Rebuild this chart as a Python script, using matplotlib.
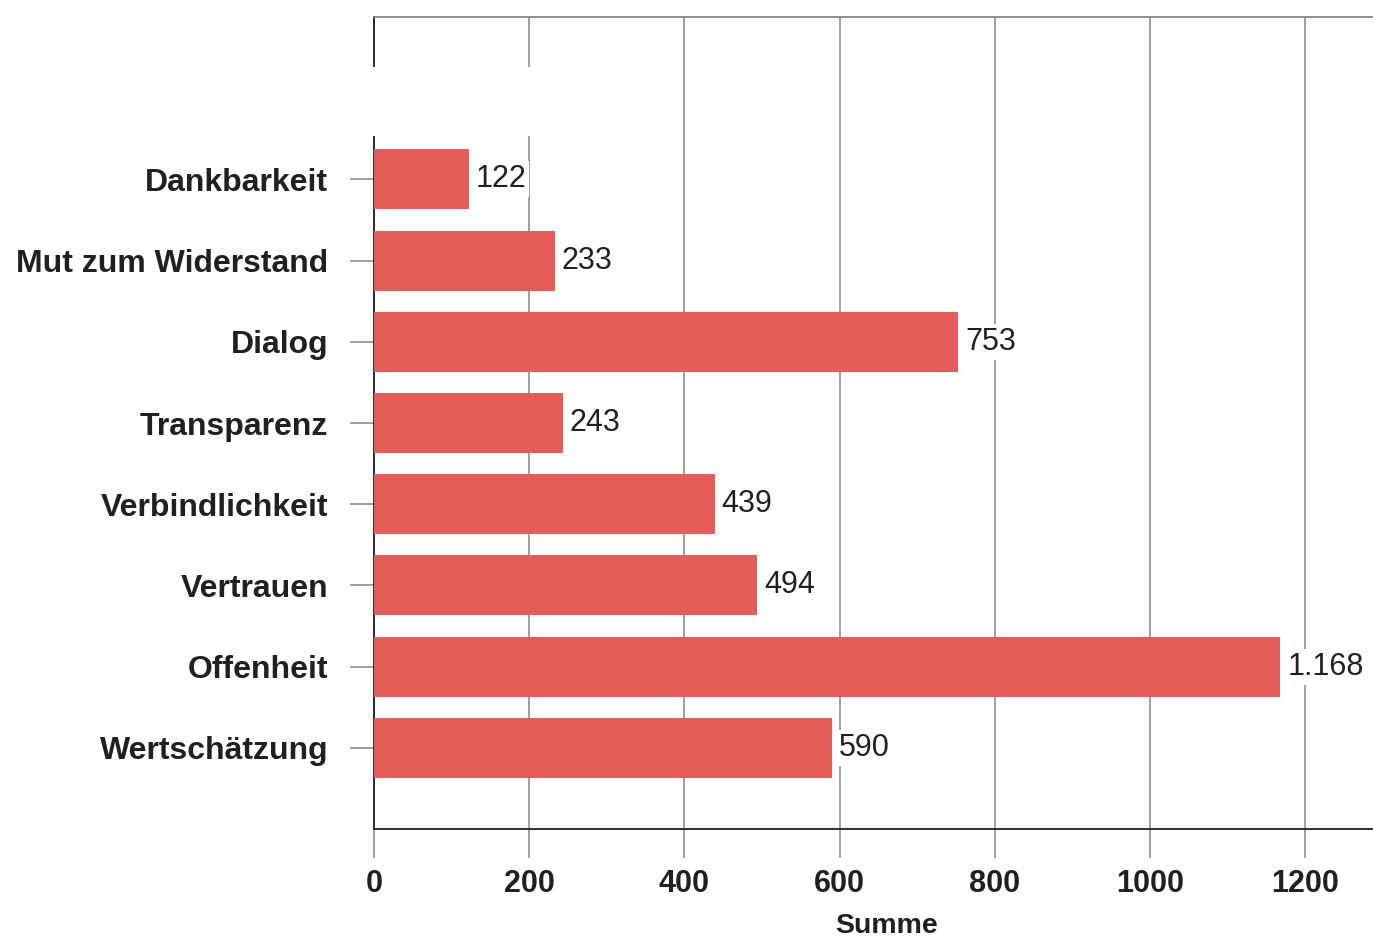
import matplotlib
matplotlib.use("Agg")
import matplotlib.pyplot as plt
from matplotlib.patches import Rectangle

categories = ["Dankbarkeit", "Mut zum Widerstand", "Dialog", "Transparenz",
              "Verbindlichkeit", "Vertrauen", "Offenheit", "Wertschätzung"]
values = [122, 233, 753, 243, 439, 494, 1168, 590]
x_ticks = [0, 200, 400, 600, 800, 1000, 1200]
x_label = "Summe"

plt.rcParams["font.family"] = ["Liberation Sans", "DejaVu Sans"]

W, H = 1373, 940
fig = plt.figure(figsize=(W / 100, H / 100), dpi=100)
ax = fig.add_axes([374 / W, 1 - 829 / H, (1372 - 374) / W, (829 - 17) / H])

bar_color = "#e55c58"
text_color = "#231f20"
grid_color = "#858585"

ypos = list(range(len(categories)))
ax.barh(ypos, values, height=0.74, color=bar_color, zorder=3)

def fmt(v):
    return f"{v:,}".replace(",", ".")

for y, v in zip(ypos, values):
    ax.annotate(fmt(v), xy=(v, y), xytext=(5, 0), textcoords="offset points",
                ha="left", va="center", fontsize=22, color=text_color,
                zorder=5,
                bbox=dict(boxstyle="square,pad=0.1", fc="white", ec="none"))

ax.set_xlim(0, 1286)
ax.set_ylim(8, -2)

ax.set_xticks(x_ticks)
ax.set_xticklabels([str(t) for t in x_ticks], fontsize=22, fontweight="bold",
                   color=text_color)
ax.set_yticks(ypos)
ax.set_yticklabels(categories, fontsize=23, fontweight="bold", color=text_color)

ax.tick_params(axis="x", length=21, width=1.1, color=grid_color, pad=8)
ax.tick_params(axis="y", length=17, width=1.1, color=grid_color, pad=16)

ax.xaxis.grid(True, color=grid_color, linewidth=1.1, zorder=1)
ax.set_axisbelow(True)

ax.spines["right"].set_visible(False)
ax.spines["top"].set_color(grid_color)
ax.spines["top"].set_linewidth(1.3)
ax.spines["bottom"].set_color(text_color)
ax.spines["bottom"].set_linewidth(1.3)
ax.spines["left"].set_color(text_color)
ax.spines["left"].set_linewidth(1.3)
ax.spines["left"].set_zorder(2)

# blank panel above the first bar, interrupting the vertical lines
ax.add_patch(Rectangle((-10, -1.39), 300, 0.85, facecolor="white",
                       edgecolor="none", zorder=4, clip_on=False))

fig.text(887 / W, 1 - 933 / H, x_label, ha="center", va="baseline",
         fontsize=20.5, fontweight="bold", color=text_color)

fig.savefig("out.png", dpi=100, facecolor="white")
